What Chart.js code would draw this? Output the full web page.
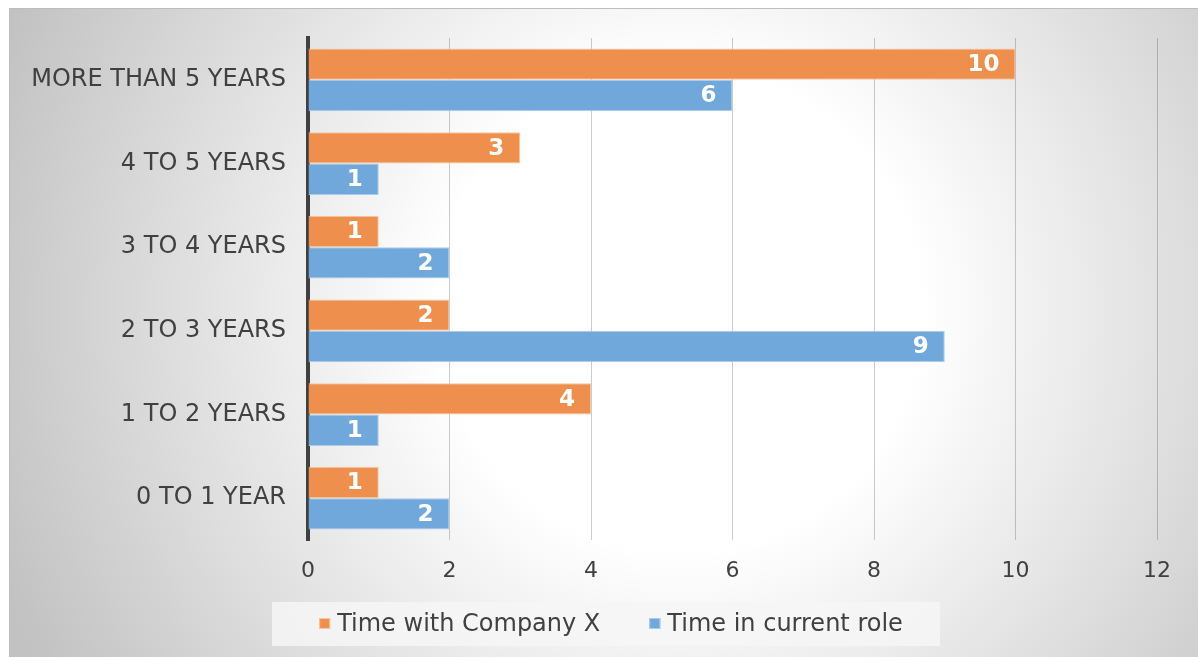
<!DOCTYPE html>
<html>
<head>
<meta charset="utf-8">
<script src="https://cdn.jsdelivr.net/npm/chart.js@4"></script>
<style>
  html, body { margin: 0; padding: 0; background: #fff; }
  #wrap { width: 1198px; height: 657px; }
</style>
</head>
<body>
<div id="wrap"><canvas id="tenureChart" width="1198" height="657"></canvas></div>
<script>
// Chart data (top to bottom as shown)
const categories = ['MORE THAN 5 YEARS', '4 TO 5 YEARS', '3 TO 4 YEARS', '2 TO 3 YEARS', '1 TO 2 YEARS', '0 TO 1 YEAR'];
const companyValues = [10, 3, 1, 2, 4, 1];
const roleValues = [6, 1, 2, 9, 1, 2];
const seriesNames = ['Time with Company X', 'Time in current role'];
const xTicks = [0, 2, 4, 6, 8, 10, 12];

const textColor = '#404040';
const fontFamily = '"DejaVu Sans", Verdana, sans-serif';

// Gradient frame behind the chart
const backgroundPlugin = {
  id: 'frameBg',
  beforeDraw(chart) {
    const ctx = chart.ctx;
    ctx.save();
    ctx.fillStyle = '#ffffff';
    ctx.fillRect(0, 0, chart.width, chart.height);
    const g = ctx.createRadialGradient(680, 310, 0, 680, 310, 730);
    g.addColorStop(0, '#ffffff');
    g.addColorStop(0.33, '#ffffff');
    g.addColorStop(1, '#c2c2c2');
    ctx.fillStyle = g;
    ctx.fillRect(9, 8, chart.width - 9, chart.height - 8);
    ctx.strokeStyle = '#bdbdbd';
    ctx.lineWidth = 1;
    ctx.strokeRect(9.5, 8.5, chart.width, chart.height);
    ctx.restore();
  }
};

// White bold values at the inside end of each bar
const valueLabels = {
  id: 'valueLabels',
  afterDatasetsDraw(chart) {
    const ctx = chart.ctx;
    ctx.save();
    ctx.font = 'bold 23px ' + fontFamily;
    ctx.fillStyle = '#ffffff';
    ctx.textAlign = 'right';
    ctx.textBaseline = 'middle';
    chart.data.datasets.forEach((ds, i) => {
      chart.getDatasetMeta(i).data.forEach((bar, j) => {
        ctx.fillText(String(ds.data[j]), bar.x - 16, bar.y + 1);
      });
    });
    ctx.restore();
  }
};

// Legend drawn in a light box under the axis
const boxLegend = {
  id: 'boxLegend',
  afterDraw(chart) {
    const ctx = chart.ctx;
    ctx.save();
    ctx.fillStyle = 'rgba(246,246,246,0.85)';
    ctx.fillRect(272, 602, 668, 44);
    ctx.font = '24px ' + fontFamily;
    ctx.textBaseline = 'middle';
    ctx.textAlign = 'left';
    const box = 11, gap = 7, between = 49;
    const widths = chart.data.datasets.map(ds => ctx.measureText(ds.label).width);
    let total = 0;
    widths.forEach((w, i) => { total += box + gap + w + (i ? between : 0); });
    let x = 611 - total / 2;
    const y = 624;
    chart.data.datasets.forEach((ds, i) => {
      ctx.fillStyle = ds.backgroundColor;
      ctx.fillRect(x, y - 6, box, box);
      ctx.strokeStyle = ds.borderColor;
      ctx.lineWidth = 1;
      ctx.strokeRect(x + 0.5, y - 5.5, box - 1, box - 1);
      ctx.fillStyle = textColor;
      ctx.fillText(ds.label, x + box + gap, y + 1);
      x += box + gap + widths[i] + between;
    });
    ctx.restore();
  }
};

new Chart(document.getElementById('tenureChart'), {
  type: 'bar',
  data: {
    labels: categories,
    datasets: [
      {
        label: seriesNames[0],
        data: companyValues,
        backgroundColor: '#ee8f4e',
        borderColor: '#f7c7a4',
        borderWidth: 1
      },
      {
        label: seriesNames[1],
        data: roleValues,
        backgroundColor: '#70a8db',
        borderColor: '#aacbea',
        borderWidth: 1
      }
    ]
  },
  options: {
    indexAxis: 'y',
    responsive: false,
    animation: false,
    layout: { padding: { top: 38, right: 41, bottom: 0, left: 0 } },
    datasets: {
      bar: { categoryPercentage: 0.75, barPercentage: 1 }
    },
    plugins: {
      legend: { display: false },
      tooltip: { enabled: false }
    },
    scales: {
      x: {
        min: 0,
        max: 12,
        z: 1,
        afterBuildTicks: scale => { scale.ticks = xTicks.map(v => ({ value: v })); },
        afterFit: scale => { scale.height = 117; },
        grid: {
          color: ctx => ctx.tick && ctx.tick.value === 0 ? 'rgba(0,0,0,0)' : 'rgba(0,0,0,0.2)',
          lineWidth: 1,
          drawTicks: false
        },
        border: { display: false },
        ticks: {
          padding: 18,
          color: textColor,
          font: { family: fontFamily, size: 22 }
        }
      },
      y: {
        afterFit: scale => { scale.width = 308; },
        grid: { display: false, drawTicks: false },
        border: { display: true, color: '#404040', width: 4 },
        ticks: {
          padding: 22,
          color: textColor,
          font: { family: fontFamily, size: 24 }
        }
      }
    }
  },
  plugins: [backgroundPlugin, valueLabels, boxLegend]
});
</script>
</body>
</html>
